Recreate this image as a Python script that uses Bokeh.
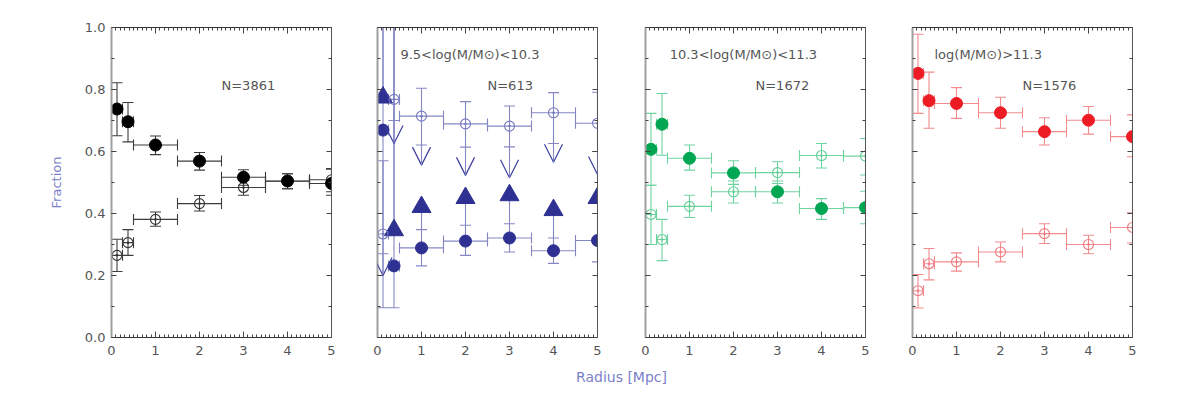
import numpy as np
from bokeh.plotting import figure
from bokeh.layouts import row, column
from bokeh.models import (LinearAxis, SingleIntervalTicker, PrintfTickFormatter, Label,
                          Arrow, OpenHead, ColumnDataSource)
from bokeh.embed import file_html
from bokeh.resources import INLINE
from bokeh.core.properties import value

# ---------------- data ----------------
radius = [0.125, 0.375, 1, 2, 3, 4, 5]
radius_halfwidth = [0.125, 0.125, 0.5, 0.5, 0.5, 0.5, 0.5]

# panel 1: all galaxies
all_filled = [0.737, 0.696, 0.621, 0.569, 0.517, 0.505, 0.497]
all_filled_lo = [0.651, 0.631, 0.590, 0.540, 0.491, 0.480, 0.459]
all_filled_hi = [0.822, 0.758, 0.650, 0.597, 0.541, 0.528, 0.543]
all_open = [0.265, 0.306, 0.381, 0.432, 0.484, 0.504, 0.509]
all_open_lo = [0.213, 0.265, 0.359, 0.408, 0.459, 0.480, 0.470]
all_open_hi = [0.317, 0.348, 0.405, 0.458, 0.508, 0.528, 0.545]

# panel 2: 9.5 < log M < 10.3
low_filled = [0.669, 0.231, 0.289, 0.311, 0.321, 0.280, 0.313]
low_filled_lo = [0.096, 0.096, 0.231, 0.265, 0.276, 0.239, 0.244]
low_filled_hi = [1.2, 1.2, 0.348, 0.362, 0.367, 0.321, 0.400]
low_limit_up = [0.774, 0.346, 0.421, 0.450, 0.459, 0.411, 0.450]
low_open = [0.334, 0.768, 0.714, 0.689, 0.682, 0.725, 0.691]
low_open_lo = [0.270, 0.700, 0.621, 0.614, 0.615, 0.626, 0.600]
low_open_hi = [0.570, 1.2, 0.804, 0.761, 0.747, 0.790, 0.791]
low_limit_down = [0.200, 0.626, 0.556, 0.523, 0.515, 0.565, 0.526]

# panel 3: 10.3 < log M < 11.3
mid_filled = [0.607, 0.688, 0.578, 0.531, 0.470, 0.416, 0.419]
mid_filled_lo = [0.491, 0.588, 0.540, 0.494, 0.434, 0.381, 0.367]
mid_filled_hi = [0.723, 0.787, 0.621, 0.570, 0.505, 0.448, 0.472]
mid_open = [0.397, 0.316, 0.423, 0.470, 0.532, 0.587, 0.585]
mid_open_lo = [0.300, 0.248, 0.387, 0.434, 0.497, 0.547, 0.524]
mid_open_hi = [0.491, 0.381, 0.459, 0.505, 0.567, 0.626, 0.642]

# panel 4: log M > 11.3
high_filled = [0.852, 0.764, 0.755, 0.725, 0.664, 0.701, 0.648]
high_filled_lo = [0.723, 0.675, 0.707, 0.675, 0.621, 0.656, 0.583]
high_filled_hi = [0.978, 0.856, 0.806, 0.775, 0.709, 0.745, 0.718]
high_open = [0.151, 0.238, 0.244, 0.276, 0.335, 0.300, 0.355]
high_open_lo = [0.095, 0.186, 0.214, 0.244, 0.303, 0.270, 0.305]
high_open_hi = [0.203, 0.287, 0.273, 0.308, 0.367, 0.330, 0.402]

mass_labels = ["", "9.5<log(M/M\u2299)<10.3", "10.3<log(M/M\u2299)<11.3", "log(M/M\u2299)>11.3"]
mass_label_x = [0.0, 0.52, 0.55, 0.5]
count_labels = ["N=3861", "N=613", "N=1672", "N=1576"]

# ---------------- style ----------------
FONT = "DejaVu Sans"
TEXT_COLOR = "#555555"
LABEL_COLOR = "#7b7fc8"

panels = [
    dict(marker="#000000", err="#3c3c3c", open="#333333",
         filled=all_filled, flo=all_filled_lo, fhi=all_filled_hi,
         opn=all_open, olo=all_open_lo, ohi=all_open_hi),
    dict(marker="#2e3192", err="#8487c4", open="#7478c0",
         filled=low_filled, flo=low_filled_lo, fhi=low_filled_hi,
         opn=low_open, olo=low_open_lo, ohi=low_open_hi),
    dict(marker="#00a651", err="#6fd3a0", open="#5fcf95",
         filled=mid_filled, flo=mid_filled_lo, fhi=mid_filled_hi,
         opn=mid_open, olo=mid_open_lo, ohi=mid_open_hi),
    dict(marker="#ed1c24", err="#f28a8e", open="#ef7a7f",
         filled=high_filled, flo=high_filled_lo, fhi=high_filled_hi,
         opn=high_open, olo=high_open_lo, ohi=high_open_hi),
]

borders = [(111, 23), (23, 24), (24, 23), (24, 30)]


def style_axis(ax, line_color, line_width, major_in, minor_in, show_labels):
    ax.axis_line_color = line_color
    ax.axis_line_width = line_width
    ax.major_tick_line_color = "#444444"
    ax.minor_tick_line_color = "#444444"
    ax.major_tick_out = 0
    ax.minor_tick_out = 0
    ax.major_tick_in = major_in
    ax.minor_tick_in = minor_in
    ax.major_label_text_font = FONT
    if show_labels:
        ax.major_label_text_font_size = "13px"
        ax.major_label_text_color = TEXT_COLOR
    else:
        ax.major_label_text_font_size = "1px"
        ax.major_label_text_color = None
        ax.major_label_standoff = 0


def error_bars(p, x, xw, y, lo, hi, color):
    x = np.asarray(x, float); xw = np.asarray(xw, float)
    y = np.asarray(y, float); lo = np.asarray(lo, float); hi = np.asarray(hi, float)
    p.segment(x0=x - xw, y0=y, x1=x + xw, y1=y, line_color=color, line_width=1.1)
    p.segment(x0=x, y0=lo, x1=x, y1=hi, line_color=color, line_width=1.1)
    p.scatter(x=np.r_[x, x], y=np.r_[lo, hi], marker="dash", size=11,
              line_color=color, line_width=1.1)
    p.scatter(x=np.r_[x - xw, x + xw], y=np.r_[y, y], marker="dash", angle=np.pi / 2,
              size=11, line_color=color, line_width=1.1)


figs = []
for i, cfg in enumerate(panels):
    bl, br = borders[i]
    p = figure(x_range=(0, 5), y_range=(0, 1), frame_width=220, frame_height=310,
               min_border_left=bl, min_border_right=br, min_border_top=27, min_border_bottom=26,
               x_axis_location=None, y_axis_location=None,
               toolbar_location=None, output_backend="svg")
    p.outline_line_color = None
    p.grid.visible = False
    p.background_fill_color = "white"
    p.border_fill_color = "white"

    bottom = LinearAxis(ticker=SingleIntervalTicker(interval=1, num_minor_ticks=10))
    style_axis(bottom, "#333333", 1, 6, 3, True)
    bottom.major_label_standoff = 8
    top = LinearAxis(ticker=SingleIntervalTicker(interval=1, num_minor_ticks=10))
    style_axis(top, "#333333", 1, 6, 3, False)
    left = LinearAxis(ticker=SingleIntervalTicker(interval=0.2, num_minor_ticks=2),
                      formatter=PrintfTickFormatter(format="%.1f"))
    style_axis(left, "#a0a0a0", 2, 5, 3, i == 0)
    if i == 0:
        left.major_label_standoff = 6
        left.axis_label = "Fraction"
        left.axis_label_text_font = FONT
        left.axis_label_text_font_size = "13px"
        left.axis_label_text_font_style = "normal"
        left.axis_label_text_color = LABEL_COLOR
        left.axis_label_standoff = 18
    right = LinearAxis(ticker=SingleIntervalTicker(interval=0.2, num_minor_ticks=2))
    style_axis(right, "#555555", 1, 5, 3, False)
    p.add_layout(bottom, "below")
    p.add_layout(top, "above")
    p.add_layout(left, "left")
    p.add_layout(right, "right")

    error_bars(p, radius, radius_halfwidth, cfg["filled"], cfg["flo"], cfg["fhi"], cfg["err"])
    error_bars(p, radius, radius_halfwidth, cfg["opn"], cfg["olo"], cfg["ohi"], cfg["err"])

    if i == 1:
        # lower limits (upward filled triangles) and upper limits (downward open arrows)
        x = np.asarray(radius, float)
        p.segment(x0=x, y0=np.asarray(cfg["fhi"]), x1=x, y1=np.asarray(low_limit_up),
                  line_color=cfg["err"], line_width=1.1)
        src = ColumnDataSource(dict(x=x, y0=np.asarray(cfg["olo"]), y1=np.asarray(low_limit_down)))
        p.add_layout(Arrow(x_start="x", y_start="y0", x_end="x", y_end="y1", source=src,
                           line_color=cfg["err"], line_width=1.1,
                           end=OpenHead(size=18, line_color="#3c40a0", line_width=1.2)))
        p.scatter(x=radius, y=low_limit_up, marker="triangle", size=19,
                  fill_color=cfg["marker"], line_color=cfg["marker"])

    p.scatter(x=radius, y=cfg["opn"], marker="circle_dot", size=10, fill_color=None,
              line_color=cfg["open"], line_width=1.1)
    p.scatter(x=radius, y=cfg["filled"], marker="circle", size=12,
              fill_color=cfg["marker"], line_color=cfg["marker"])

    tx = [2.5]
    ty = [0.813]
    tt = [count_labels[i]]
    if mass_labels[i]:
        tx.append(mass_label_x[i]); ty.append(0.913); tt.append(mass_labels[i])
    p.text(x=tx, y=ty, text=tt, text_font=value(FONT), text_font_size=value("13px"),
           text_color=TEXT_COLOR, text_baseline="middle", text_align="left")
    figs.append(p)

lab = figure(width=1162, height=26, x_range=(0, 1162), y_range=(0, 26), min_border=0,
             x_axis_location=None, y_axis_location=None,
             toolbar_location=None, output_backend="svg")
lab.outline_line_color = None
lab.grid.visible = False
lab.add_layout(Label(x=621, y=13, text="Radius [Mpc]", text_align="center", text_baseline="middle",
                     text_font=FONT, text_font_size="14px", text_color=LABEL_COLOR))

layout = column(row(*figs), lab)
open("out.html", "w").write(file_html(layout, INLINE))
